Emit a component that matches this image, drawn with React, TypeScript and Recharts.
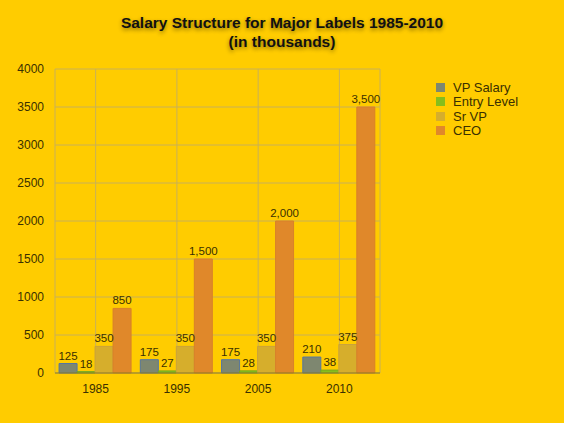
import React from 'react';
import { BarChart, Bar, XAxis, YAxis, CartesianGrid, Legend, LabelList } from 'recharts';

const years = ['1985', '1995', '2005', '2010'];
const vpSalary = [125, 175, 175, 210];
const entryLevel = [18, 27, 28, 38];
const srVp = [350, 350, 350, 375];
const ceo = [850, 1500, 2000, 3500];
const yTicks = [0, 500, 1000, 1500, 2000, 2500, 3000, 3500, 4000];
const legendOrder = ['VP Salary', 'Entry Level', 'Sr VP', 'CEO'];

const data = years.map((year, i) => ({
  year,
  vp: vpSalary[i],
  entry: entryLevel[i],
  srvp: srVp[i],
  ceo: ceo[i],
}));

const FONT = '"Liberation Sans", Arial, Helvetica, sans-serif';
const BG = '#FFCC00';

const fmt = (v: any) => Number(v).toLocaleString('en-US');

const labelStyle = { fontSize: 11.5, fill: '#3a3000', fontFamily: FONT };
const tickStyle = { fontSize: 12, fill: '#3a3000', fontFamily: FONT };

const LegendBox = (props: any) => {
  const items = [...(props.payload || [])].sort(
    (a: any, b: any) => legendOrder.indexOf(a.value) - legendOrder.indexOf(b.value)
  );
  return (
    <div style={{ fontFamily: FONT, fontSize: 13, color: '#3a3000' }}>
      {items.map((p: any) => (
        <div key={p.value} style={{ display: 'flex', alignItems: 'center', height: 14.5 }}>
          <span
            style={{
              display: 'inline-block',
              width: 9,
              height: 9,
              background: p.color,
              marginRight: 8,
            }}
          />
          {p.value}
        </div>
      ))}
    </div>
  );
};

const App = () => {
  return (
    <div
      style={{
        position: 'absolute',
        left: 0,
        top: 0,
        width: 564,
        height: 423,
        background: BG,
        fontFamily: FONT,
      }}
    >
      <div
        style={{
          position: 'absolute',
          left: 0,
          top: 13,
          width: 564,
          textAlign: 'center',
          fontWeight: 'bold',
          fontSize: 15.5,
          lineHeight: '19px',
          color: '#111',
          textShadow: '0 2px 4px rgba(0,0,0,0.45)',
        }}
      >
        Salary Structure for Major Labels 1985-2010
        <br />
        (in thousands)
      </div>
      <BarChart
        width={564}
        height={423}
        data={data}
        margin={{ top: 69, right: 184, left: 5, bottom: 20 }}
        barCategoryGap="5%"
        barGap={0}
        style={{ position: 'absolute', left: 0, top: 0 }}
      >
        <CartesianGrid stroke="#c8b058" strokeWidth={1} />
        <XAxis
          dataKey="year"
          height={30}
          tickLine={false}
          tickMargin={5}
          stroke="#8f7d20"
          tick={tickStyle}
        />
        <YAxis
          width={50}
          domain={[0, 4000]}
          ticks={yTicks}
          axisLine={false}
          tickLine={false}
          tickMargin={5}
          tick={tickStyle}
        />
        <Legend
          layout="vertical"
          align="center"
          verticalAlign="middle"
          content={<LegendBox />}
          wrapperStyle={{ left: 436, top: 80, width: 120 }}
        />
        <Bar dataKey="vp" name="VP Salary" fill="#7e8770" stroke="#5476a0" isAnimationActive={false}>
          <LabelList dataKey="vp" position="top" offset={4} formatter={fmt} style={labelStyle} />
        </Bar>
        <Bar dataKey="entry" name="Entry Level" fill="#86be1c" stroke="#74a820" isAnimationActive={false}>
          <LabelList dataKey="entry" position="top" offset={4} formatter={fmt} style={labelStyle} />
        </Bar>
        <Bar dataKey="srvp" name="Sr VP" fill="#d6ae2c" stroke="#c9a23c" isAnimationActive={false}>
          <LabelList dataKey="srvp" position="top" offset={4} formatter={fmt} style={labelStyle} />
        </Bar>
        <Bar dataKey="ceo" name="CEO" fill="#e0882a" stroke="#d8802a" isAnimationActive={false}>
          <LabelList dataKey="ceo" position="top" offset={4} formatter={fmt} style={labelStyle} />
        </Bar>
      </BarChart>
    </div>
  );
};

export default App;
